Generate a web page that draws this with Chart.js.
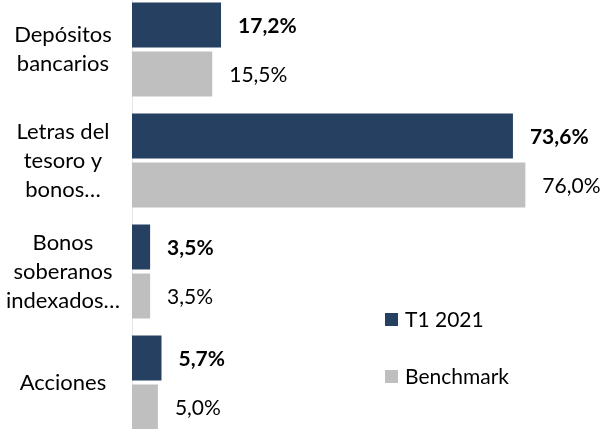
<!DOCTYPE html>
<html>
<head>
<meta charset="utf-8">
<script src="https://cdn.jsdelivr.net/npm/chart.js@4"></script>
<style>
  html, body { margin: 0; padding: 0; background: #fff; overflow: hidden; }
  #wrap { position: absolute; left: 0; top: -6px; width: 603px; height: 444px; }
</style>
</head>
<body>
<div id="wrap"><canvas id="c" width="603" height="444"></canvas></div>
<script>
const categories = [
  ['Depósitos', 'bancarios'],
  ['Letras del', 'tesoro y', 'bonos…'],
  ['Bonos', 'soberanos', 'indexados…'],
  ['Acciones']
];
const seriesNames = ['T1 2021', 'Benchmark'];
const t1Values = [17.2, 73.6, 3.5, 5.7];
const benchmarkValues = [15.5, 76.0, 3.5, 5.0];

const FONT = 'Lato, "Open Sans", sans-serif';
const DARK = '#264061';
const GRAY = '#bfbfbf';

function fmt(v) { return v.toFixed(1).replace('.', ',') + '%'; }

const labelPlugin = {
  id: 'valueLabels',
  afterDatasetsDraw(chart) {
    const ctx = chart.ctx;
    ctx.save();
    ctx.fillStyle = '#000';
    ctx.textBaseline = 'middle';
    ctx.textAlign = 'left';
    chart.data.datasets.forEach((ds, di) => {
      const meta = chart.getDatasetMeta(di);
      ctx.font = (di === 0 ? 'bold ' : '') + '21px ' + FONT;
      meta.data.forEach((bar, i) => {
        ctx.fillText(fmt(ds.data[i]), bar.x + 17, bar.y + 1);
      });
    });
    // legend
    const a = chart.chartArea;
    const lx = a.left + 253;
    const items = [[DARK, seriesNames[0], 326], [GRAY, seriesNames[1], 383]];
    ctx.font = '21px ' + FONT;
    items.forEach(([col, txt, cy]) => {
      ctx.fillStyle = col;
      ctx.fillRect(lx, cy - 7, 13, 13);
      ctx.fillStyle = '#000';
      ctx.fillText(txt, lx + 20, cy);
    });
    ctx.restore();
  }
};

new Chart(document.getElementById('c'), {
  type: 'bar',
  data: {
    labels: categories,
    datasets: [
      { label: seriesNames[0], data: t1Values, backgroundColor: DARK,
        categoryPercentage: 0.883, barPercentage: 0.918 },
      { label: seriesNames[1], data: benchmarkValues, backgroundColor: GRAY,
        categoryPercentage: 0.883, barPercentage: 0.918 }
    ]
  },
  options: {
    indexAxis: 'y',
    responsive: false,
    animation: false,
    devicePixelRatio: 1,
    layout: { padding: 0 },
    plugins: { legend: { display: false }, tooltip: { enabled: false } },
    scales: {
      x: { display: false, min: 0, max: 91 },
      y: {
        afterFit(axis) { axis.width = 132; axis.paddingTop = 0; axis.paddingBottom = 0; },
        grid: { display: false, drawTicks: false },
        border: { display: true, color: '#e6e6e6', width: 1 },
        ticks: {
          color: '#000',
          padding: 12,
          crossAlign: 'center',
          font: { family: FONT, size: 22, lineHeight: 1.318 }
        }
      }
    }
  },
  plugins: [labelPlugin]
});
</script>
</body>
</html>
